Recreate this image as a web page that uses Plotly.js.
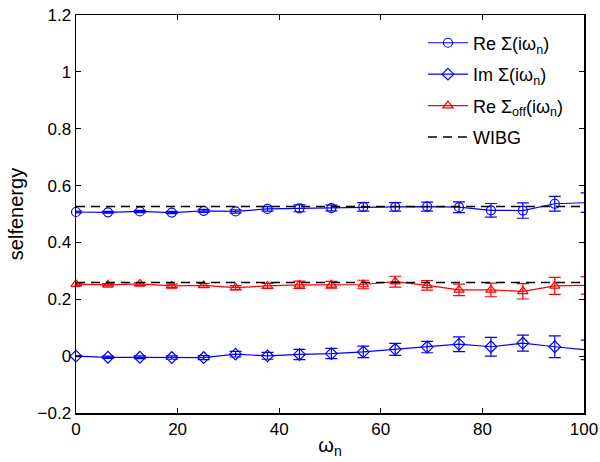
<!DOCTYPE html>
<html>
<head>
<meta charset="utf-8">
<script src="https://cdn.plot.ly/plotly-3.0.1.min.js"></script>
<style>html,body{margin:0;padding:0;background:#fff;}#chart{width:600px;height:462px;}</style>
</head>
<body>
<div id="chart"></div>
<script>
// Matsubara frequencies
var omegaN = [0, 6.283, 12.566, 18.850, 25.133, 31.416, 37.699, 43.982, 50.265, 56.549, 62.832, 69.115, 75.398, 81.681, 87.965, 94.248, 100.531];

var reSigma    = [0.507, 0.506, 0.509, 0.505, 0.511, 0.509, 0.518, 0.520, 0.521, 0.525, 0.525, 0.526, 0.524, 0.513, 0.512, 0.536, 0.540];
var reSigmaErr = [0.003, 0.003, 0.004, 0.004, 0.005, 0.006, 0.008, 0.012, 0.010, 0.015, 0.015, 0.016, 0.019, 0.024, 0.027, 0.026, 0.034];

var imSigma    = [0.000, -0.004, -0.004, -0.005, -0.005, 0.007, 0.001, 0.006, 0.009, 0.015, 0.024, 0.032, 0.042, 0.033, 0.046, 0.033, 0.022];
var imSigmaErr = [0.002, 0.004, 0.005, 0.006, 0.007, 0.010, 0.012, 0.018, 0.018, 0.020, 0.021, 0.020, 0.026, 0.033, 0.028, 0.038, 0.034];

var reSigmaOff    = [0.253, 0.251, 0.254, 0.247, 0.249, 0.241, 0.247, 0.251, 0.251, 0.252, 0.262, 0.249, 0.233, 0.233, 0.228, 0.247, 0.249];
var reSigmaOffErr = [0.004, 0.004, 0.005, 0.006, 0.007, 0.007, 0.009, 0.013, 0.012, 0.015, 0.019, 0.017, 0.020, 0.024, 0.027, 0.030, 0.031];

var wibgX = [0, 100];
var wibgLevels = [0.526, 0.259];

var xTicks = [0, 20, 40, 60, 80, 100];
var yTicks = [-0.2, 0, 0.2, 0.4, 0.6, 0.8, 1, 1.2];
var yTickText = ['\u22120.2', '0', '0.2', '0.4', '0.6', '0.8', '1', '1.2'];

var BLUE = 'rgb(0,0,255)', RED = 'rgb(255,0,0)';
var FONT = 'Liberation Sans, Arial, Helvetica, sans-serif';

function series(name, y, err, color, symbol, group) {
  return {
    x: omegaN, y: y, name: name, type: 'scatter', mode: 'lines+markers',
    legendgroup: group, cliponaxis: false,
    line: {color: color, width: 1.2},
    marker: {symbol: symbol, size: 9, color: color, line: {color: color, width: 1.2}},
    error_y: {type: 'data', array: err, visible: true, color: color, thickness: 1.2, width: 6}
  };
}

var wx = [], wy = [];
wibgLevels.forEach(function (v, i) {
  if (i > 0) { wx.push(null); wy.push(null); }
  wx.push(wibgX[0], wibgX[1]); wy.push(v, v);
});

var traces = [
  series('Re \u03A3(i\u03C9<sub>n</sub>)', reSigma, reSigmaErr, BLUE, 'circle-open', 'a'),
  series('Im \u03A3(i\u03C9<sub>n</sub>)', imSigma, imSigmaErr, BLUE, 'diamond-open', 'b'),
  series('Re \u03A3<sub>off</sub>(i\u03C9<sub>n</sub>)', reSigmaOff, reSigmaOffErr, RED, 'triangle-up-open', 'c'),
  {x: wx, y: wy, name: 'WIBG', type: 'scatter', mode: 'lines', legendgroup: 'd',
   line: {color: 'black', width: 1.5, dash: '9px,6px'}}
];

var axisCommon = {
  showgrid: false, zeroline: false, showline: true, mirror: 'ticks',
  linecolor: 'black', linewidth: 1.5, ticks: 'inside', ticklen: 5, tickwidth: 1,
  tickcolor: 'black', tickfont: {family: FONT, size: 17, color: 'black'}
};

var layout = {
  width: 600, height: 462,
  margin: {l: 76, r: 16, t: 15, b: 49},
  paper_bgcolor: 'white', plot_bgcolor: 'white',
  font: {family: FONT, size: 17, color: 'black'},
  xaxis: Object.assign({}, axisCommon, {
    range: [0, 100], tickmode: 'array', tickvals: xTicks,
    title: {text: '\u03C9<sub>n</sub>', font: {family: FONT, size: 20}, standoff: 0}
  }),
  yaxis: Object.assign({}, axisCommon, {
    range: [-0.2, 1.2], tickmode: 'array', tickvals: yTicks, ticktext: yTickText,
    title: {text: 'selfenergy', font: {family: FONT, size: 20}, standoff: 8}
  }),
  legend: {
    x: 0.683, y: 0.976, xanchor: 'left', yanchor: 'top',
    bgcolor: 'rgba(255,255,255,0)', borderwidth: 0,
    font: {family: FONT, size: 18, color: 'black'},
    itemwidth: 40,
    tracegroupgap: 5, traceorder: 'grouped'
  },
  showlegend: true
};

Plotly.newPlot('chart', traces, layout, {displayModeBar: false, staticPlot: true});
</script>
</body>
</html>
